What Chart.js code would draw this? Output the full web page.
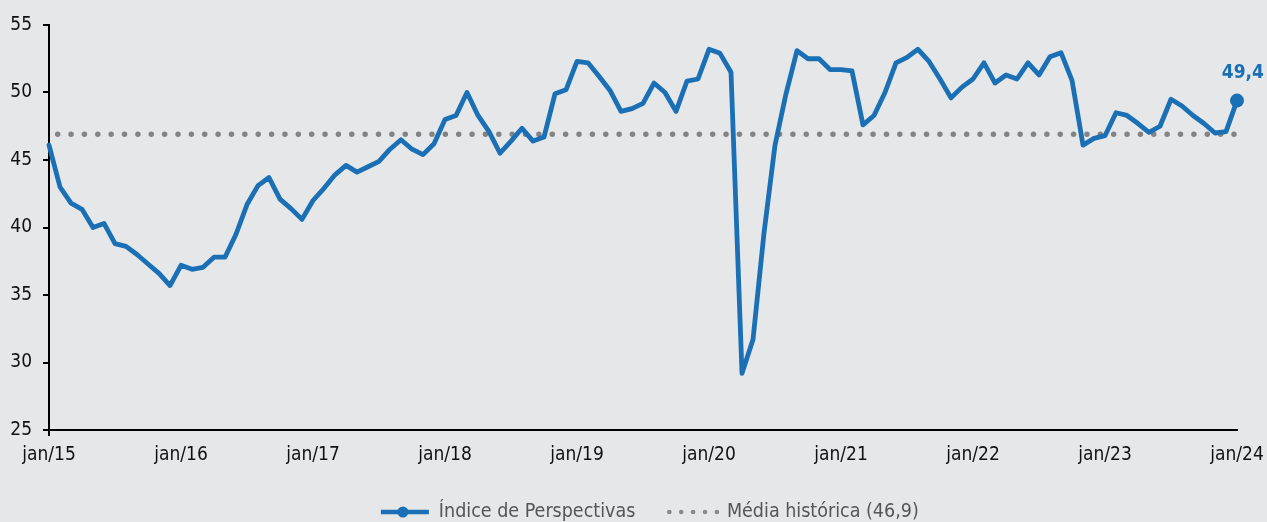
<!DOCTYPE html>
<html><head><meta charset="utf-8">
<script src="https://cdn.jsdelivr.net/npm/chart.js@4/dist/chart.umd.min.js"></script>
<style>html,body{margin:0;padding:0;background:#e6e7e9;overflow:hidden}#wrap{width:1267px;height:522px}</style>
</head><body><div id="wrap"><canvas id="c" width="1267" height="522"></canvas></div>
<script>
const meses = ['jan','fev','mar','abr','mai','jun','jul','ago','set','out','nov','dez'];
const anos = ['15','16','17','18','19','20','21','22','23','24'];
const indicePerspectivas = [
  46.1,43.0,41.8,41.35,40.0,40.3,38.8,38.6,38.0,37.3,36.6,35.7,
  37.2,36.9,37.05,37.8,37.8,39.5,41.7,43.1,43.7,42.1,41.4,40.6,
  42.0,42.9,43.9,44.6,44.1,44.5,44.9,45.8,46.5,45.8,45.4,46.2,
  48.0,48.3,50.0,48.3,47.1,45.5,46.4,47.35,46.4,46.7,49.9,50.2,
  52.3,52.2,51.2,50.15,48.6,48.8,49.2,50.7,50.0,48.6,50.85,51.0,
  53.2,52.9,51.5,29.2,31.7,39.6,46.1,49.9,53.1,52.5,52.5,51.7,
  51.7,51.6,47.6,48.3,50.0,52.2,52.6,53.2,52.3,51.0,49.6,50.4,
  51.0,52.2,50.7,51.3,51.0,52.2,51.3,52.65,52.95,50.9,46.1,46.6,
  46.8,48.5,48.3,47.7,47.05,47.5,49.5,49.0,48.3,47.7,47.0,47.1,
  49.4
];
const mediaHistorica = 46.9;
const yMin = 25, yMax = 55, yStep = 5;
const rotuloUltimo = '49,4';
const nomeSerie = 'Índice de Perspectivas';
const nomeMedia = 'Média histórica (46,9)';

const categorias = [];
anos.forEach(a => meses.forEach(m => { if (categorias.length < indicePerspectivas.length) categorias.push(m + '/' + a); }));
const serieMedia = categorias.map(() => mediaHistorica);

const AZUL = '#1a6fb5';
const CINZA = '#838383';
const FONT = '"DejaVu Sans Condensed", "DejaVu Sans", sans-serif';

const labelPlugin = {
  id: 'labels',
  afterDatasetsDraw(chart) {
    const ctx = chart.ctx;
    const meta = chart.getDatasetMeta(0);
    const p = meta.data[meta.data.length - 1];
    ctx.save();
    ctx.font = 'bold 19px ' + FONT;
    ctx.fillStyle = AZUL;
    ctx.textAlign = 'right';
    ctx.textBaseline = 'middle';
    ctx.fillText(rotuloUltimo, p.x + 27, p.y - 28);
    ctx.restore();
  },
  afterDraw(chart) {
    const ctx = chart.ctx;
    ctx.save();
    ctx.font = '19.5px ' + FONT;
    const w1 = ctx.measureText(nomeSerie).width;
    const w2 = ctx.measureText(nomeMedia).width;
    const total = 48 + 10 + w1 + 34 + 48 + 10 + w2;
    let x = 650 - total / 2;
    const y = 512;
    ctx.strokeStyle = AZUL; ctx.lineWidth = 4.5; ctx.lineCap = 'butt';
    ctx.beginPath(); ctx.moveTo(x, y); ctx.lineTo(x + 48, y); ctx.stroke();
    ctx.fillStyle = AZUL;
    ctx.beginPath(); ctx.arc(x + 22, y, 5.5, 0, Math.PI * 2); ctx.fill();
    x += 58;
    ctx.fillStyle = '#555';
    ctx.textBaseline = 'middle'; ctx.textAlign = 'left';
    ctx.fillText(nomeSerie, x, y);
    x += w1 + 34;
    ctx.fillStyle = '#8a8a8a';
    for (let i = 0; i < 5; i++) { ctx.beginPath(); ctx.arc(x + i * 11.9, y, 2.3, 0, Math.PI * 2); ctx.fill(); }
    x += 4 * 11.9 + 10;
    ctx.fillStyle = '#555';
    ctx.fillText(nomeMedia, x, y);
    ctx.restore();
  }
};

new Chart(document.getElementById('c'), {
  type: 'line',
  data: {
    labels: categorias,
    datasets: [
      {
        label: nomeSerie, data: indicePerspectivas, borderColor: AZUL, backgroundColor: AZUL,
        borderWidth: 4.8, tension: 0, borderJoinStyle: 'round', borderCapStyle: 'round',
        pointRadius: c => c.dataIndex === indicePerspectivas.length - 1 ? 7 : 0,
        pointHoverRadius: 0, pointBorderWidth: 0, pointBackgroundColor: AZUL
      },
      {
        label: nomeMedia, data: serieMedia, borderColor: CINZA, borderWidth: 5.5,
        borderDash: [0, 13.367], borderDashOffset: 4.67, borderCapStyle: 'round',
        pointRadius: 0, pointHoverRadius: 0, tension: 0
      }
    ]
  },
  options: {
    responsive: false, animation: false, devicePixelRatio: 1,
    layout: { padding: { top: 25, right: 30, left: 0, bottom: 0 } },
    plugins: { legend: { display: false }, tooltip: { enabled: false } },
    scales: {
      x: {
        type: 'category', offset: false,
        border: { color: '#000', width: 2 },
        grid: { drawOnChartArea: false, drawTicks: true, tickLength: 6, lineWidth: 2,
                color: c => (c.index % 12 === 0 ? '#000' : 'rgba(0,0,0,0)') },
        ticks: { autoSkip: false, maxRotation: 0, minRotation: 0, padding: 8, color: '#111',
                 font: { family: FONT, size: 19 },
                 callback: (v, i) => (i % 12 === 0 ? categorias[i] : null) },
        afterFit: s => { s.height = 92; s.paddingLeft = 0; s.paddingRight = 0; }
      },
      y: {
        min: yMin, max: yMax,
        border: { color: '#000', width: 2 },
        grid: { drawOnChartArea: false, drawTicks: true, tickLength: 6, lineWidth: 2, color: '#000' },
        ticks: { stepSize: yStep, padding: 11, color: '#111', font: { family: FONT, size: 19 } },
        afterFit: s => { s.width = 49; s.paddingTop = 0; s.paddingBottom = 0; }
      }
    }
  },
  plugins: [labelPlugin]
});
</script>
</body></html>
